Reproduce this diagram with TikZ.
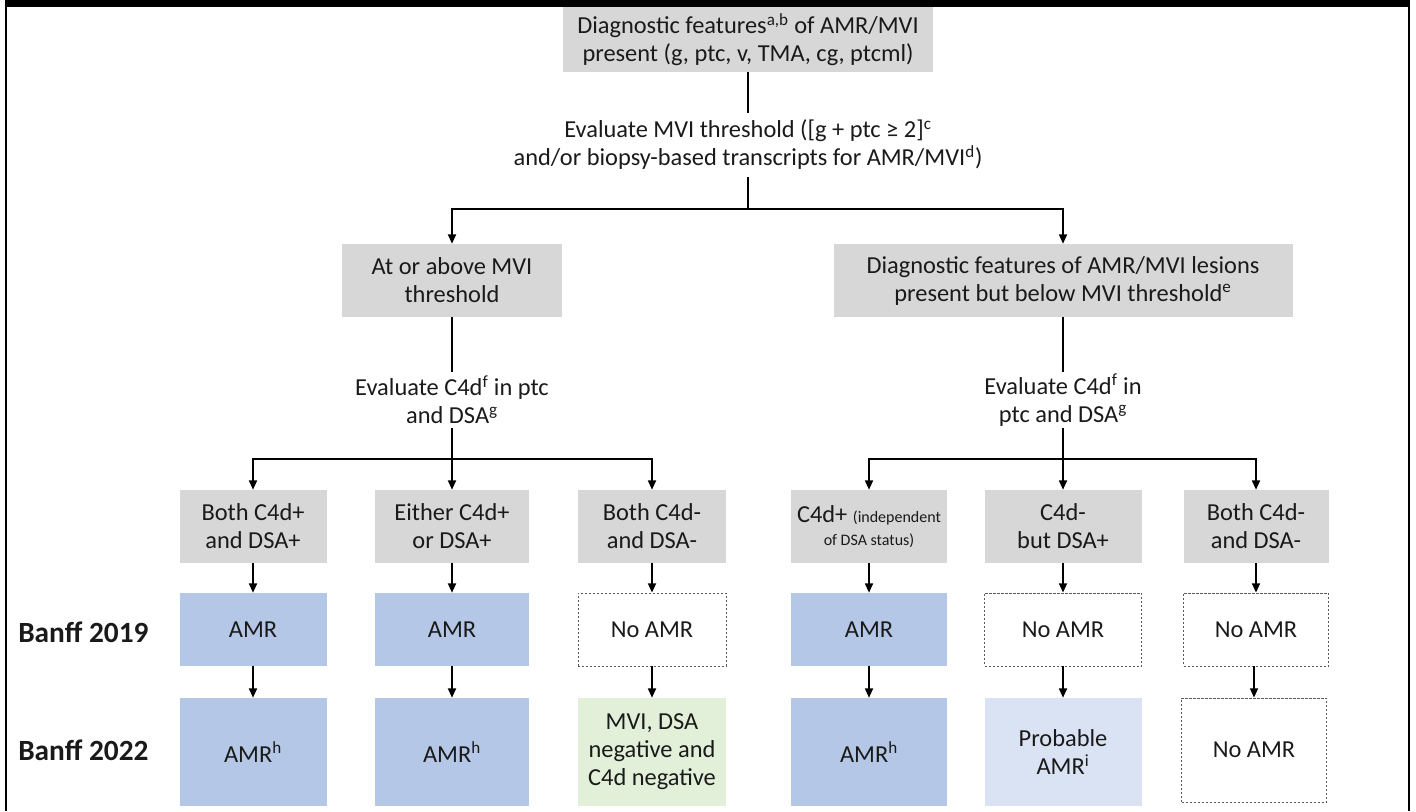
\documentclass[tikz,border=0pt]{standalone}
\usepackage{fontspec}
\setmainfont{Carlito}
\usetikzlibrary{arrows.meta}
\definecolor{boxgray}{HTML}{D7D7D7}
\definecolor{amrblue}{HTML}{B4C7E7}
\definecolor{probblue}{HTML}{DAE3F3}
\definecolor{neggreen}{HTML}{E2F0D9}
\definecolor{dashgray}{HTML}{5A5A5A}
\definecolor{txt}{HTML}{1A1A1A}
\begin{document}
\begin{tikzpicture}[x=0.75pt,y=-0.75pt,
  base/.style={inner sep=0pt, align=center, font=\fontsize{18.3}{21}\selectfont, text=txt},
  gbox/.style={base, fill=boxgray, minimum width=112.5pt, minimum height=54.75pt},
  bluebox/.style={base, fill=amrblue, minimum width=112.5pt, minimum height=54.75pt},
  dbox/.style={base, draw=dashgray, line width=0.6pt, dash pattern=on 1.8pt off 1.2pt, minimum width=112.5pt, minimum height=54.75pt},
  tallblue/.style={bluebox, minimum height=81pt},
  lbl/.style={base, minimum height=41.25pt},
  banff/.style={inner sep=0pt, anchor=west, font=\bfseries\fontsize{22}{26}\selectfont, text=txt},
  conn/.style={line width=1.3pt, black},
  arr/.style={conn, -{Triangle[length=7pt,width=6pt]}}
]
\useasboundingbox (0,0) rectangle (1416,811);
% frame
\fill[black] (5,0) rectangle (1410,7);
\fill[black] (5,0) rectangle (7,811);
\fill[black] (1408,0) rectangle (1410,811);

% top
\node[base, fill=boxgray, minimum width=277.5pt, minimum height=48.75pt] (top) at (748,39.5)
  {Diagnostic features\textsuperscript{a,b} of AMR/MVI\\present (g, ptc, v, TMA, cg, ptcml)};
\node[base, minimum height=48pt] (evalmvi) at (748,145)
  {Evaluate MVI threshold ([g + ptc ≥ 2]\textsuperscript{c}\\and/or biopsy-based transcripts for AMR/MVI\textsuperscript{d})};
\coordinate (s0) at (748,209);

% second level
\node[base, fill=boxgray, minimum width=165pt, minimum height=54.75pt] (above) at (452,280.5)
  {At or above MVI\\threshold};
\node[base, fill=boxgray, minimum width=344.25pt, minimum height=54.75pt] (below) at (1063,280.5)
  {Diagnostic features of AMR/MVI lesions\\present but below MVI threshold\textsuperscript{e}};
\node[lbl] (evalL) at (452,400) {Evaluate C4d\textsuperscript{f} in ptc\\and DSA\textsuperscript{g}};
\node[lbl] (evalR) at (1063,400) {Evaluate C4d\textsuperscript{f} in\\ptc and DSA\textsuperscript{g}};
\coordinate (sL) at (452,459);
\coordinate (sR) at (1063,459);

% row 1
\node[gbox, minimum width=110.25pt] (c1) at (253,526.5) {Both C4d+\\and DSA+};
\node[gbox, minimum width=115.5pt] (c2) at (452,526.5) {Either C4d+\\or DSA+};
\node[gbox, minimum width=111pt] (c3) at (652,526.5) {Both C4d-\\and DSA-};
\node[gbox, minimum width=117pt] (c4) at (869,526.5) {C4d+ {\fontsize{12}{14}\selectfont (independent}\\[-4pt]{\fontsize{12}{14}\selectfont of DSA status)}};
\node[gbox, minimum width=117.75pt] (c5) at (1063,526.5) {C4d-\\but DSA+};
\node[gbox, minimum width=108.75pt] (c6) at (1256,526.5) {Both C4d-\\and DSA-};

% row 2 (Banff 2019)
\node[banff] (b19) at (18,632) {Banff 2019};
\node[bluebox, minimum width=110.25pt] (r1) at (253,629.5) {AMR};
\node[bluebox, minimum width=115.5pt] (r2) at (452,629.5) {AMR};
\node[dbox, minimum width=111pt] (r3) at (652,629.5) {No AMR};
\node[bluebox, minimum width=117pt] (r4) at (869,629.5) {AMR};
\node[dbox, minimum width=117.75pt] (r5) at (1063,629.5) {No AMR};
\node[dbox, minimum width=108.75pt] (r6) at (1256,629.5) {No AMR};

% row 3 (Banff 2022)
\node[banff] (b22) at (18,750) {Banff 2022};
\node[tallblue, minimum width=110.25pt] (n1) at (253,752) {AMR\textsuperscript{h}};
\node[tallblue, minimum width=115.5pt] (n2) at (452,752) {AMR\textsuperscript{h}};
\node[base, fill=neggreen, minimum width=111pt, minimum height=81pt] (n3) at (652,752) {MVI, DSA\\negative and\\C4d negative};
\node[tallblue, minimum width=117pt] (n4) at (869,752) {AMR\textsuperscript{h}};
\node[base, fill=probblue, minimum width=117.75pt, minimum height=81pt] (n5) at (1063,752) {Probable\\AMR\textsuperscript{i}};
\node[dbox, minimum width=108.75pt, minimum height=78pt] (n6) at (1254,750) {No AMR};

% connectors
\draw[conn] (top.south) -- (evalmvi.north);
\draw[conn] (evalmvi.south) -- (s0);
\draw[arr] (s0) -| (above.north);
\draw[arr] (s0) -| (below.north);
\draw[conn] (above.south) -- (evalL.north);
\draw[conn] (below.south) -- (evalR.north);
\draw[conn] (evalL.south) -- (sL);
\draw[conn] (evalR.south) -- (sR);
\draw[arr] (sL) -| (c1.north);
\draw[arr] (sL) -- (c2.north);
\draw[arr] (sL) -| (c3.north);
\draw[arr] (sR) -| (c4.north);
\draw[arr] (sR) -- (c5.north);
\draw[arr] (sR) -| (c6.north);
\foreach \i in {1,...,6} {
  \draw[arr] (c\i.south) -- (r\i.north);
}
\foreach \i in {1,...,5} {
  \draw[arr] (r\i.south) -- (n\i.north);
}
\draw[arr] (r6.south -| n6.north) -- (n6.north);
\end{tikzpicture}
\end{document}
